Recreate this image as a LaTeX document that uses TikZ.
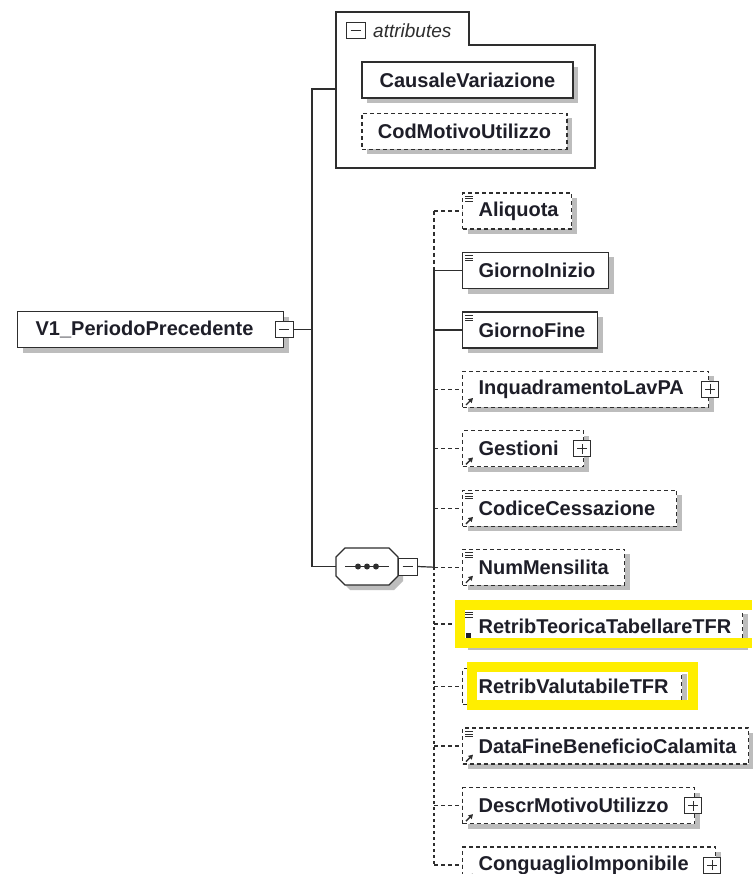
\documentclass[tikz,border=0pt]{standalone}
\usepackage{fontspec}
\setmainfont{Liberation Sans}
\usetikzlibrary{shadows,arrows.meta,calc}
\definecolor{lineC}{HTML}{2E2E2E}
\definecolor{textC}{HTML}{1E1E28}
\definecolor{shadC}{HTML}{BDBDBD}
\definecolor{hiY}{RGB}{255,238,0}
\newcommand\eqicon[1]{\foreach \k in {0,2.5,5}{\draw[lineC,line width=0.8pt] ($(#1.north west)+(3,4+\k)$) -- ++(8,0);}}
\newcommand\arricon[1]{\draw[lineC,line width=1.3pt,-{Triangle[length=4.5pt,width=5pt]}] ($(#1.south west)+(4,-3)$) -- ++(7,-7);}
\begin{document}
\begin{tikzpicture}[x=1pt,y=-1pt,
  shad/.style={drop shadow={shadow xshift=5pt,shadow yshift=-5pt,fill=shadC,opacity=1}},
  txt/.style={font=\bfseries\fontsize{20}{22}\selectfont,text=textC},
  box/.style={draw=lineC,line width=1.2pt,fill=white,shad,minimum height=36pt,
    inner xsep=0pt,inner ysep=0pt,text width=#1,txt,anchor=west},
  cbox/.style={draw=lineC,line width=1.2pt,fill=white,shad,minimum height=36pt,
    minimum width=#1,inner sep=0pt,txt},
  opt/.style={dash pattern=on 4pt off 3pt},
  conn/.style={draw=lineC,line width=1.2pt},
  dconn/.style={conn,dash pattern=on 4pt off 3pt},
  vconn/.style={conn,dash pattern=on 3pt off 3pt},
  pbox/.style={draw=lineC,line width=1pt,fill=white,minimum width=17pt,minimum height=16pt,inner sep=0pt,
    path picture={\draw[lineC,line width=1pt] ([xshift=-5pt]path picture bounding box.center) -- ([xshift=5pt]path picture bounding box.center);
                  \draw[lineC,line width=1pt] ([yshift=-5pt]path picture bounding box.center) -- ([yshift=5pt]path picture bounding box.center);}},
  mbox/.style={draw=lineC,line width=1pt,fill=white,minimum width=#1,minimum height=16pt,inner sep=0pt,
    path picture={\draw[lineC,line width=1pt] ([xshift=-5pt]path picture bounding box.center) -- ([xshift=5pt]path picture bounding box.center);}},
  mbox/.default=18pt
]
\useasboundingbox (0,0) rectangle (752,874);
\fill[white] (0,0) rectangle (752,874);

% coordinates of the tree
\coordinate (attrIn) at (336,89);
\coordinate (jTop) at (312,89);
\coordinate (jMid) at (312,329.5);
\coordinate (jBot) at (312,566.5);
\foreach \i/\y in {0/211,1/270.5,2/330,3/389.4,4/448.8,5/508.3,6/567.2,7/624,8/686.6,9/746,10/805.5,11/865}{
  \coordinate (b\i) at (434,\y);
}

% bus lines
\draw[dconn] (b0) -- (b1);
\draw[conn] (b1) -- (b6);
\draw[vconn] (b6) -- (b11);
\draw[conn] (attrIn) -- (jTop) -- (jBot);

% attributes group
\draw[lineC,line width=1.2pt] (336,12) -- (469,12) -- (469,45) -- (595,45) -- (595,168) -- (336,168) -- cycle;
\node[mbox=19pt] (am) at (355.5,31) {};
\node[anchor=west,font=\itshape\fontsize{19}{21}\selectfont,text=lineC,inner sep=0pt] (at) at (373,31) {attributes};
\node[cbox=211pt] (cv) at (467.5,80) {CausaleVariazione};
\node[cbox=205pt,opt] (cm) at (464.5,131.5) {CodMotivoUtilizzo};

% root
\node[box=266pt] (root) at (17,329.5) {\hspace*{18pt}V1\_PeriodoPrecedente};
\node[mbox] (rm) at (root.east) {};
\draw[conn] (rm.east) -- (jMid);

% sequence
\node[minimum width=62pt,minimum height=37pt,inner sep=0pt] (seq) at (367,566.5) {};
\fill[shadC] (350,553) -- (394,553) -- (403,562) -- (403,581) -- (394,590) -- (350,590) -- (341,581) -- (341,562) -- cycle;
\draw[lineC,line width=1.2pt,fill=white] (345,548) -- (389,548) -- (398,557) -- (398,576) -- (389,585) -- (345,585) -- (336,576) -- (336,557) -- cycle;
\draw[lineC,line width=1.2pt] ([xshift=-22pt]seq.center) -- ([xshift=22pt]seq.center);
\foreach \dx in {-9,0,9}{\fill[lineC] ([xshift=\dx pt]seq.center) circle (3pt);}
\node[mbox=19pt,minimum height=17pt] (sm) at (407.5,566.5) {};
\draw[conn] (jBot) -- (seq.west);
\draw[conn] (sm.east) -- (b6);

% children
\node[box=109pt,opt] (n0) at (462,211) {\hspace*{16pt}Aliquota};
\node[box=146pt] (n1) at (462,270.5) {\hspace*{16pt}GiornoInizio};
\node[box=135pt] (n2) at (462,330) {\hspace*{16pt}GiornoFine};
\node[box=246pt,opt] (n3) at (462,389.4) {\hspace*{16pt}InquadramentoLavPA};
\node[box=121pt,opt] (n4) at (462,448.8) {\hspace*{16pt}Gestioni};
\node[box=214pt,opt] (n5) at (462,508.3) {\hspace*{16pt}CodiceCessazione};
\node[box=162pt,opt] (n6) at (462,567.2) {\hspace*{16pt}NumMensilita};
\node[box=280pt,opt] (n7) at (462,626.5) {\hspace*{16pt}RetribTeoricaTabellareTFR};
\node[box=219pt,opt] (n8) at (462,686.6) {\hspace*{16pt}RetribValutabileTFR};
\node[box=286pt,opt] (n9) at (462,746) {\hspace*{16pt}DataFineBeneficioCalamita};
\node[box=232pt,opt] (n10) at (462,805.5) {\hspace*{16pt}DescrMotivoUtilizzo};
\node[box=253pt,opt] (n11) at (462,865) {\hspace*{16pt}ConguaglioImponibile};

% connectors to children
\draw[dconn] (b0) -- (n0.west);
\draw[conn] (b1) -- (n1.west);
\draw[conn] (b2) -- (n2.west);
\draw[dconn] (b3) -- (n3.west);
\draw[dconn] (b4) -- (n4.west);
\draw[dconn] (b5) -- (n5.west);
\draw[dconn] (b6) -- (n6.west);
\draw[dconn] (b7) -- (n7.west |- b7);
\draw[dconn] (b8) -- (n8.west);
\draw[dconn] (b9) -- (n9.west);
\draw[dconn] (b10) -- (n10.west);
\draw[dconn] (b11) -- (n11.west);

% plus boxes
\node[pbox] (p3) at ([xshift=1pt]n3.east) {};
\node[pbox] (p4) at ([xshift=-2pt]n4.east) {};
\node[pbox] (p10) at ([xshift=-2pt]n10.east) {};
\node[pbox] (p11) at ([xshift=-4pt]n11.east) {};

% highlights
\fill[hiY] (455,600) rectangle (752,610);
\fill[hiY] (455,638) rectangle (752,648);
\fill[hiY] (455,600) rectangle (465,648);
\draw[hiY,line width=10pt] (472,667) rectangle (692.5,705);

% icons
\eqicon{n0}\eqicon{n1}\eqicon{n2}\eqicon{n5}\eqicon{n6}\eqicon{n7}\eqicon{n9}
\arricon{n3}\arricon{n4}\arricon{n5}\arricon{n6}\arricon{n9}\arricon{n10}\arricon{n11}
\fill[textC] ($(n7.south west)+(4,-7)$) rectangle ++(5,-5);
\end{tikzpicture}
\end{document}
